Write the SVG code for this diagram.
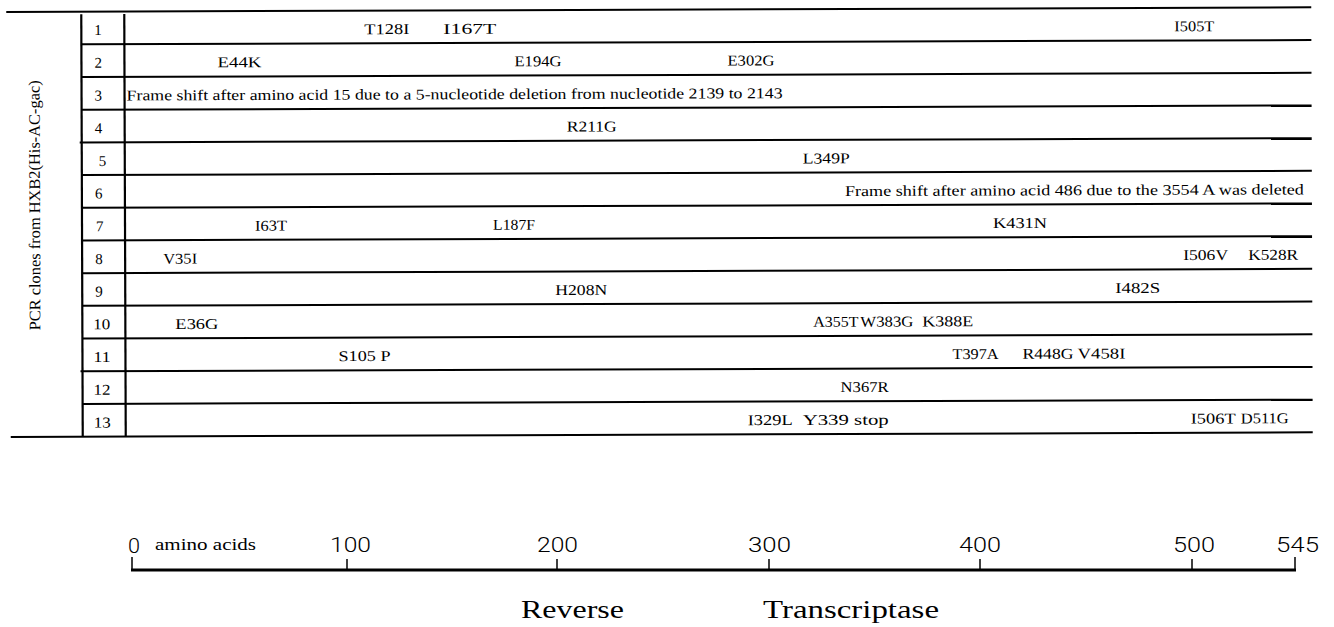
<svg xmlns="http://www.w3.org/2000/svg" width="1334" height="627" viewBox="0 0 1334 627">
<style>
.ln{stroke:#000;stroke-width:2;fill:none}
.vl{stroke:#000;stroke-width:2.2;fill:none}
.m{font-family:"Liberation Serif","Times New Roman",serif;font-size:15px;fill:#000}
.n{font-family:"Liberation Serif","Times New Roman",serif;font-size:15px;fill:#000}
.lab{font-family:"Liberation Serif","Times New Roman",serif;font-size:16px;fill:#000}
.sc{font-family:Roboto,"Liberation Sans",Arial,sans-serif;font-weight:300;font-size:20px;fill:#000}
.scs{font-family:"Liberation Serif","Times New Roman",serif;font-size:17px;fill:#000}
.big{font-family:"Liberation Serif","Times New Roman",serif;font-size:26px;fill:#000}
.tk{stroke:#000;stroke-width:1.5}
</style>
<rect width="1334" height="627" fill="#fff"/>
<g id="table" transform="rotate(-0.2 700 222)">
<g id="connectors">
<line class="ln" x1="7" y1="9.5" x2="1312" y2="9.5"/>
<line class="ln" x1="82" y1="42.2" x2="1312" y2="42.2"/>
<line class="ln" x1="82" y1="74.9" x2="1312" y2="74.9"/>
<line class="ln" x1="82" y1="107.6" x2="1312" y2="107.6"/>
<line class="ln" x1="80" y1="140.3" x2="1312" y2="140.3"/>
<line class="ln" x1="82" y1="172.9" x2="1312" y2="172.9"/>
<line class="ln" x1="82" y1="205.6" x2="1312" y2="205.6"/>
<line class="ln" x1="82" y1="238.3" x2="1312" y2="238.3"/>
<line class="ln" x1="82" y1="271" x2="1312" y2="271"/>
<line class="ln" x1="82" y1="303.7" x2="1312" y2="303.7"/>
<line class="ln" x1="82" y1="336.4" x2="1312" y2="336.4"/>
<line class="ln" x1="80" y1="369.1" x2="1312" y2="369.1"/>
<line class="ln" x1="82" y1="401.8" x2="1312" y2="401.8"/>
<line class="ln" x1="10" y1="434.5" x2="1312" y2="434.5"/>
<line class="vl" x1="82" y1="12" x2="82" y2="434.5"/>
<line class="vl" x1="125" y1="12" x2="125" y2="434.5"/>
</g>
<g id="ylabel">
<text class="lab" transform="translate(40 328) rotate(-90)" x="0" y="0" textLength="250" lengthAdjust="spacingAndGlyphs">PCR clones from HXB2(His-AC-gac)</text>
</g>
<g id="row1">
<text class="n" x="95" y="33">1</text>
<text class="m" x="365" y="33" textLength="45" lengthAdjust="spacingAndGlyphs">T128I</text>
<text class="m" x="444" y="33" textLength="53" lengthAdjust="spacingAndGlyphs">I167T</text>
<text class="m" x="1175" y="33" textLength="40" lengthAdjust="spacingAndGlyphs">I505T</text>
</g>
<g id="row2">
<text class="n" x="95" y="65.7">2</text>
<text class="m" x="218" y="65.7" textLength="44" lengthAdjust="spacingAndGlyphs">E44K</text>
<text class="m" x="515" y="65.7" textLength="47" lengthAdjust="spacingAndGlyphs">E194G</text>
<text class="m" x="728" y="65.7" textLength="47" lengthAdjust="spacingAndGlyphs">E302G</text>
</g>
<g id="row3">
<text class="n" x="95" y="98.4">3</text>
<text class="m" x="127" y="98.4" textLength="656" lengthAdjust="spacingAndGlyphs">Frame shift after amino acid 15 due to a 5-nucleotide deletion from nucleotide 2139 to 2143</text>
</g>
<g id="row4">
<text class="n" x="95" y="131.1">4</text>
<text class="m" x="567" y="131.1" textLength="50" lengthAdjust="spacingAndGlyphs">R211G</text>
</g>
<g id="row5">
<text class="n" x="99" y="163.8">5</text>
<text class="m" x="803" y="163.8" textLength="47" lengthAdjust="spacingAndGlyphs">L349P</text>
</g>
<g id="row6">
<text class="n" x="95" y="196.5">6</text>
<text class="m" x="845" y="196.5" textLength="459" lengthAdjust="spacingAndGlyphs">Frame shift after amino acid 486 due to the 3554 A was deleted</text>
</g>
<g id="row7">
<text class="n" x="96" y="229.1">7</text>
<text class="m" x="255" y="229.1" textLength="32" lengthAdjust="spacingAndGlyphs">I63T</text>
<text class="m" x="493" y="229.1" textLength="42" lengthAdjust="spacingAndGlyphs">L187F</text>
<text class="m" x="993" y="229.1" textLength="54" lengthAdjust="spacingAndGlyphs">K431N</text>
</g>
<g id="row8">
<text class="n" x="95" y="261.8">8</text>
<text class="m" x="163" y="261.8" textLength="34" lengthAdjust="spacingAndGlyphs">V35I</text>
<text class="m" x="1183" y="261.8" textLength="45" lengthAdjust="spacingAndGlyphs">I506V</text>
<text class="m" x="1248" y="261.8" textLength="50" lengthAdjust="spacingAndGlyphs">K528R</text>
</g>
<g id="row9">
<text class="n" x="95" y="294.5">9</text>
<text class="m" x="555" y="294.5" textLength="52" lengthAdjust="spacingAndGlyphs">H208N</text>
<text class="m" x="1115" y="294.5" textLength="45" lengthAdjust="spacingAndGlyphs">I482S</text>
</g>
<g id="row10">
<text class="n" x="93" y="327.2" textLength="17" lengthAdjust="spacingAndGlyphs">10</text>
<text class="m" x="175" y="327.2" textLength="43" lengthAdjust="spacingAndGlyphs">E36G</text>
<text class="m" x="813" y="327.2" textLength="45" lengthAdjust="spacingAndGlyphs">A355T</text>
<text class="m" x="860" y="327.2" textLength="53" lengthAdjust="spacingAndGlyphs">W383G</text>
<text class="m" x="922" y="327.2" textLength="51" lengthAdjust="spacingAndGlyphs">K388E</text>
</g>
<g id="row11">
<text class="n" x="93" y="359.9" textLength="17" lengthAdjust="spacingAndGlyphs">11</text>
<text class="m" x="338" y="359.9" textLength="52" lengthAdjust="spacingAndGlyphs">S105 P</text>
<text class="m" x="952" y="359.9" textLength="46" lengthAdjust="spacingAndGlyphs">T397A</text>
<text class="m" x="1022" y="359.9" textLength="51" lengthAdjust="spacingAndGlyphs">R448G</text>
<text class="m" x="1077" y="359.9" textLength="48" lengthAdjust="spacingAndGlyphs">V458I</text>
</g>
<g id="row12">
<text class="n" x="93" y="392.6" textLength="17" lengthAdjust="spacingAndGlyphs">12</text>
<text class="m" x="840" y="392.6" textLength="48" lengthAdjust="spacingAndGlyphs">N367R</text>
</g>
<g id="row13">
<text class="n" x="93" y="425.3" textLength="17" lengthAdjust="spacingAndGlyphs">13</text>
<text class="m" x="747" y="425.3" textLength="45" lengthAdjust="spacingAndGlyphs">I329L</text>
<text class="m" x="802" y="425.3" textLength="86" lengthAdjust="spacingAndGlyphs">Y339 stop</text>
<text class="m" x="1190" y="425.3" textLength="45" lengthAdjust="spacingAndGlyphs">I506T</text>
<text class="m" x="1240" y="425.3" textLength="48" lengthAdjust="spacingAndGlyphs">D511G</text>
</g>
</g>
<g id="scale">
<line x1="131" y1="570" x2="1296" y2="570" stroke="#000" stroke-width="3"/>
<line class="tk" x1="132" y1="557" x2="132" y2="570"/>
<line class="tk" x1="347" y1="559" x2="347" y2="570"/>
<line class="tk" x1="557" y1="559" x2="557" y2="570"/>
<line class="tk" x1="769" y1="559" x2="769" y2="570"/>
<line class="tk" x1="980" y1="559" x2="980" y2="570"/>
<line class="tk" x1="1192" y1="559" x2="1192" y2="570"/>
<line class="tk" x1="1295" y1="557" x2="1295" y2="570"/>
<text class="sc" x="128" y="553" textLength="12" lengthAdjust="spacingAndGlyphs">0</text>
<text class="scs" x="155" y="550" textLength="101" lengthAdjust="spacingAndGlyphs">amino acids</text>
<text class="sc" x="330" y="552" textLength="41" lengthAdjust="spacingAndGlyphs">100</text>
<text class="sc" x="537" y="552" textLength="41" lengthAdjust="spacingAndGlyphs">200</text>
<text class="sc" x="748" y="552" textLength="43" lengthAdjust="spacingAndGlyphs">300</text>
<text class="sc" x="959" y="552" textLength="42" lengthAdjust="spacingAndGlyphs">400</text>
<text class="sc" x="1173" y="552" textLength="42" lengthAdjust="spacingAndGlyphs">500</text>
<text class="sc" x="1276" y="552" textLength="43" lengthAdjust="spacingAndGlyphs">545</text>
</g>
<g id="title">
<text class="big" x="521" y="618" textLength="103" lengthAdjust="spacingAndGlyphs">Reverse</text>
<text class="big" x="763" y="618" textLength="176" lengthAdjust="spacingAndGlyphs">Transcriptase</text>
</g>
</svg>
